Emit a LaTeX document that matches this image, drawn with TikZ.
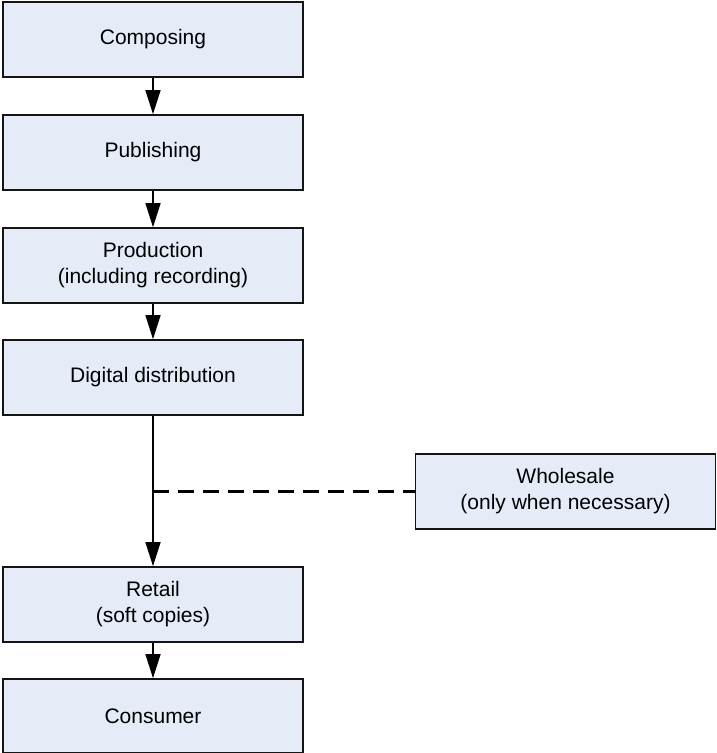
\documentclass[tikz,border=0pt]{standalone}
\usepackage{fontspec}
\setmainfont{Liberation Sans}
\usetikzlibrary{arrows.meta}
\definecolor{boxfill}{RGB}{229,236,247}
\definecolor{boxline}{RGB}{20,20,20}
\begin{document}
\begin{tikzpicture}[x=1pt,y=-1pt,
  stagebox/.style={draw=boxline,line width=1.7pt,fill=boxfill,minimum width=300pt,minimum height=75pt,inner sep=0pt,align=center,font=\fontsize{21}{26}\selectfont},
  flow/.style={line width=1.4pt,-{Triangle[length=24pt,width=15pt]}},
  optional/.style={line width=2.5pt,dash pattern=on 16pt off 9pt}]
\useasboundingbox (0,0) rectangle (716,753);
\node[stagebox] (compose) at (153,39.5) {Composing};
\node[stagebox] (publish) at (153,152.5) {Publishing};
\node[stagebox] (produce) at (153,265.5) {Production\\(including recording)};
\node[stagebox] (digital) at (153,377.5) {Digital distribution};
\node[stagebox] (whole) at (565.5,491.5) {Wholesale\\(only when necessary)};
\node[stagebox] (retail) at (153,604.5) {Retail\\(soft copies)};
\node[stagebox,minimum height=74pt] (consumer) at (153,716) {Consumer};
\coordinate (join) at (153,491.5);
\draw[flow] (compose) -- (publish);
\draw[flow] (publish) -- (produce);
\draw[flow] (produce) -- (digital);
\draw[flow] (digital) -- (retail);
\draw[flow] (retail) -- (consumer);
\draw[optional] (join) -- (whole.west);
\end{tikzpicture}
\end{document}
